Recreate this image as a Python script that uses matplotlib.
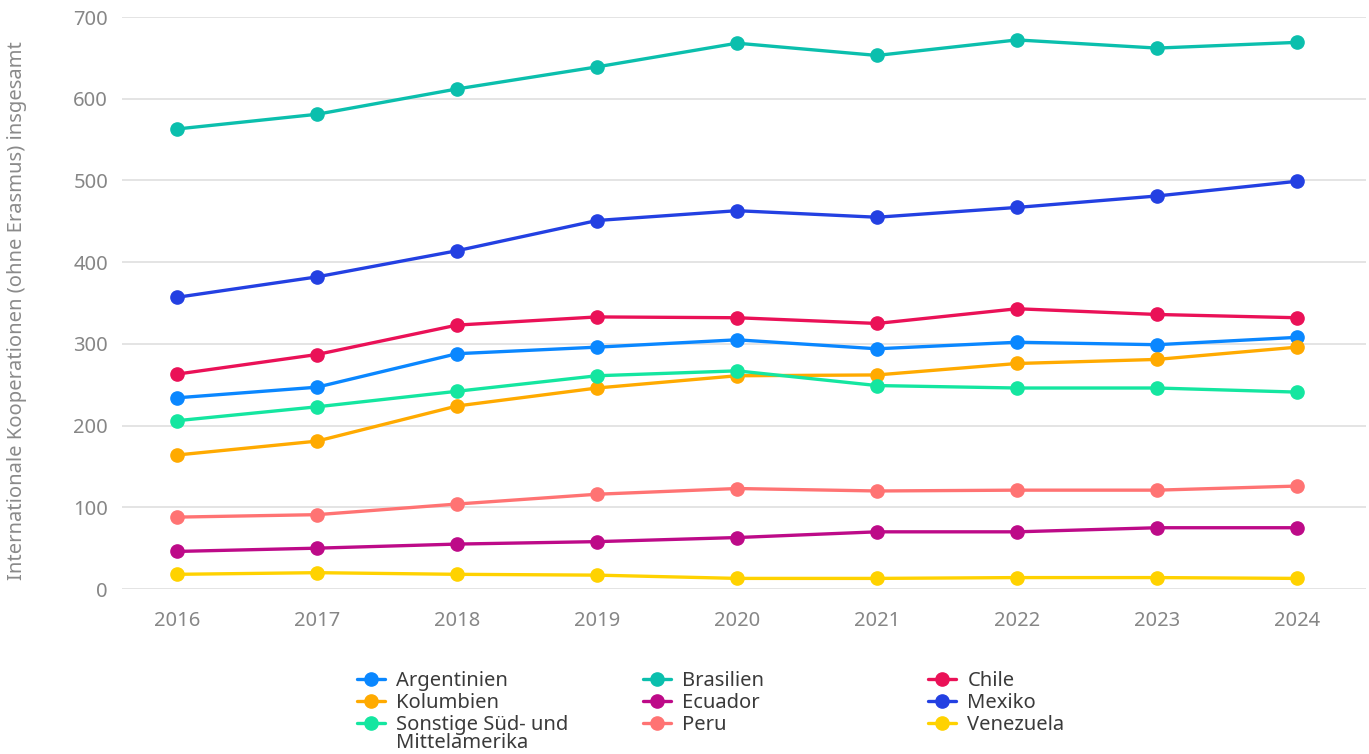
import numpy as np
import matplotlib.pyplot as plt

plt.rcParams['font.family'] = ['Noto Sans', 'DejaVu Sans']

years = [2016, 2017, 2018, 2019, 2020, 2021, 2022, 2023, 2024]

argentinien = [234, 247, 288, 296, 305, 294, 302, 299, 308]
brasilien = [563, 581, 612, 639, 668, 653, 672, 662, 669]
chile = [263, 287, 323, 333, 332, 325, 343, 336, 332]
kolumbien = [164, 181, 224, 246, 261, 262, 276, 281, 296]
ecuador = [46, 50, 55, 58, 63, 70, 70, 75, 75]
mexiko = [357, 382, 414, 451, 463, 455, 467, 481, 499]
sonstige = [206, 223, 242, 261, 267, 249, 246, 246, 241]
peru = [88, 91, 104, 116, 123, 120, 121, 121, 126]
venezuela = [18, 20, 18, 17, 13, 13, 14, 14, 13]

series = [
    ("Argentinien", argentinien, "#0a87ff"),
    ("Brasilien", brasilien, "#0bbfad"),
    ("Chile", chile, "#ea1157"),
    ("Kolumbien", kolumbien, "#ffaa00"),
    ("Ecuador", ecuador, "#bd0a88"),
    ("Mexiko", mexiko, "#2340e2"),
    ("Sonstige Süd- und", sonstige, "#14e6a0"),
    ("Peru", peru, "#ff7373"),
    ("Venezuela", venezuela, "#ffd200"),
]

fig = plt.figure(figsize=(13.69, 7.54), dpi=100)
ax = fig.add_axes([0.0891, 0.2188, 0.9087, 0.7586])

handles = {}
for name, vals, col in series:
    h, = ax.plot(years, vals, color=col, lw=2.4, marker='o', markersize=9.5,
                 solid_capstyle='round', label=name, zorder=3)
    handles[name] = h

ax.set_xlim(2015.607, 2024.493)
ax.set_ylim(0, 700)
ax.set_yticks(np.arange(0, 701, 100))
ax.set_xticks(years)
ax.grid(axis='y', color='#e2e2e2', lw=1.3)
ax.set_axisbelow(True)
for s in ax.spines.values():
    s.set_visible(False)
ax.tick_params(length=0, labelsize=14.5, labelcolor='#868686')
ax.tick_params(axis='y', pad=10)
ax.tick_params(axis='x', pad=16)
fig.text(17 / 1369, 1 - 311 / 754,
         "Internationale Kooperationen (ohne Erasmus) insgesamt",
         rotation=90, ha='center', va='center', fontsize=14.5, color='#8a8a8a')

cols = [
    (["Argentinien", "Kolumbien", "Sonstige Süd- und"], 357),
    (["Brasilien", "Ecuador", "Peru"], 643),
    (["Chile", "Mexiko", "Venezuela"], 928),
]
for names, px in cols:
    fig.legend([handles[n] for n in names], names,
               loc='upper left', bbox_to_anchor=(px / 1369, 1 - 671 / 754),
               frameon=False, fontsize=14.5, handlelength=1.4,
               handletextpad=0.55, labelspacing=0.1, borderpad=0,
               borderaxespad=0, labelcolor='#3a3a3a')

# second line of the wrapped legend entry
fig.text(396 / 1369, 1 - 743 / 754, "Mittelamerika", ha='left', va='center',
         fontsize=14.5, color='#3a3a3a')

fig.savefig("out.png", dpi=100)
